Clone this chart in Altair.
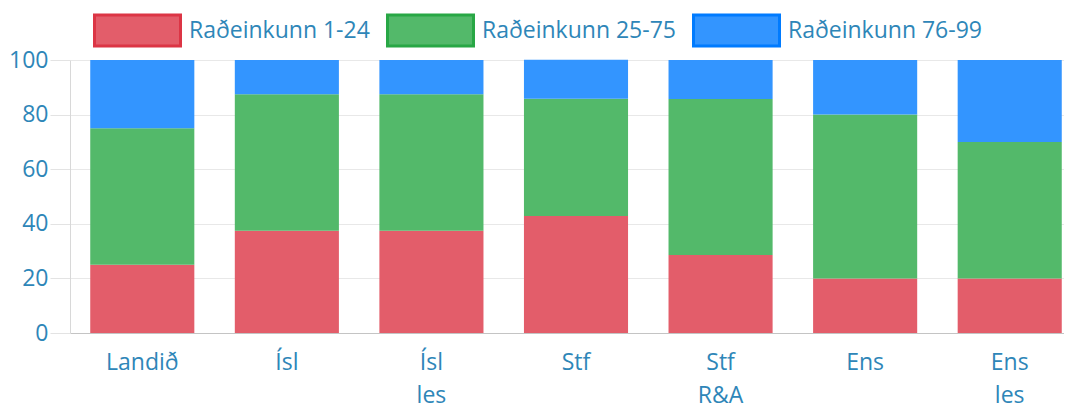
import altair as alt
import pandas as pd

categories = ["Landið", "Ísl", "Ísl les", "Stf", "Stf R&A", "Ens", "Ens les"]
series_names = ["Raðeinkunn 1-24", "Raðeinkunn 25-75", "Raðeinkunn 76-99"]
low = [25, 37.5, 37.5, 42.9, 28.6, 20, 20]
mid = [50, 50, 50, 42.9, 57.1, 60, 50]
high = [25, 12.5, 12.5, 14.3, 14.3, 20, 30]

fills = ["#e35d6a", "#53b96a", "#3395ff"]
strokes = ["#dc3545", "#28a745", "#007bff"]
text_color = "#2e86b8"
font = "Open Sans"

rows = []
for i, c in enumerate(categories):
    for k, vals in enumerate([low, mid, high]):
        rows.append({"cat": c, "series": series_names[k], "value": vals[i], "order": k})
df = pd.DataFrame(rows)

chart = alt.Chart(df).mark_bar(strokeWidth=0).encode(
    x=alt.X("cat:N", sort=categories,
            scale=alt.Scale(paddingInner=0.28, paddingOuter=0.14, range=[0, 1012]),
            axis=alt.Axis(title=None, labelAngle=0, ticks=False,
                          labelExpr="split(datum.label, ' ')",
                          labelLineHeight=33, labelPadding=18,
                          domainColor="#c4c4c4", grid=False)),
    y=alt.Y("value:Q", stack="zero",
            scale=alt.Scale(domain=[0, 100], nice=False),
            axis=alt.Axis(title=None, values=[0, 20, 40, 60, 80, 100],
                          tickSize=20, labelPadding=2, tickColor="#e3e3e3",
                          gridColor="#e8e8e8", domainColor="#d8d8d8")),
    fill=alt.Fill("series:N", sort=series_names,
                  scale=alt.Scale(domain=series_names, range=fills),
                  legend=alt.Legend(title=None, orient="none", direction="horizontal",
                                    legendX=23, legendY=-74,
                                    symbolType="M-1,-0.36H1V0.36H-1Z",
                                    symbolSize=7396, symbolStrokeWidth=3,
                                    labelFontSize=23, labelColor=text_color,
                                    labelOffset=7, columnPadding=11, labelLimit=0,
                                    labelFont=font)),
    stroke=alt.Stroke("series:N", sort=series_names,
                      scale=alt.Scale(domain=series_names, range=strokes),
                      legend=None),
    order=alt.Order("order:Q"),
).properties(
    width=994, height=273,
    autosize=alt.AutoSizeParams(type="none"),
    padding={"left": 62, "top": 52, "right": 0, "bottom": 75},
).configure_axis(
    labelFont=font, labelFontSize=23, labelColor=text_color,
).configure_view(stroke=None)

chart.save("out.html", embed_options={"renderer": "svg", "actions": False})
